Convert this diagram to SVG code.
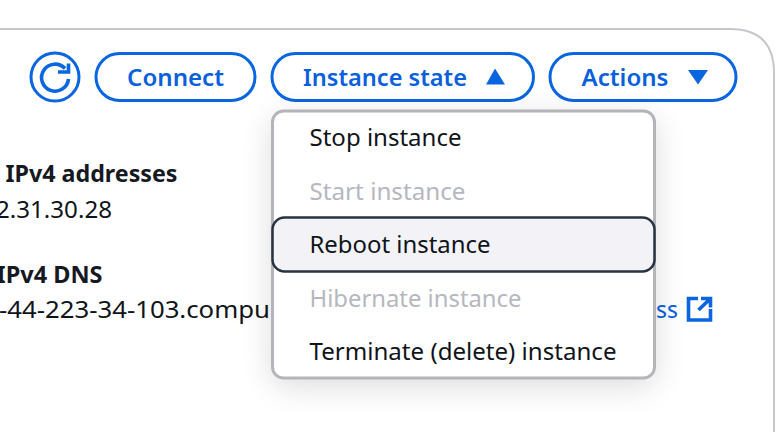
<svg xmlns="http://www.w3.org/2000/svg" width="780" height="432" viewBox="0 0 780 432">
<style>
text{font-family:"Noto Sans","Open Sans","Liberation Sans",sans-serif;font-size:24px;fill:#0f141a}
.b{font-weight:700;fill:#16191f}
.l{font-weight:600;fill:#0a5fdc;font-size:24px}
.d{fill:#b6b7bf}
.btn{fill:#fff;stroke:#0a66e0;stroke-width:3}
.ic{fill:none;stroke:#0a66e0;stroke-width:3.6}
</style>
<defs>
<filter id="sh" x="-20%" y="-20%" width="140%" height="140%"><feGaussianBlur stdDeviation="16"/></filter>
</defs>
<rect width="780" height="432" fill="#fff"/>
<path d="M-5 29H730Q774 29 774 73V432" fill="none" stroke="#c6c6cd" stroke-width="2"/>
<g id="details">
<text class="b" x="5.500" y="182" textLength="172" lengthAdjust="spacingAndGlyphs">IPv4 addresses</text>
<text x="-4" y="218" textLength="116" lengthAdjust="spacingAndGlyphs">2.31.30.28</text>
<text class="b" x="-3.500" y="283" textLength="106" lengthAdjust="spacingAndGlyphs">IPv4 DNS</text>
<text x="-1" y="318" textLength="271" lengthAdjust="spacingAndGlyphs">-44-223-34-103.compu</text>
<text x="656" y="318" style="fill:#0a5fdc" textLength="22" lengthAdjust="spacingAndGlyphs">ss</text>
<path class="ic" d="M698 298.500H688.500V320H710.500V309M701 298.500H710.500V307.500M710.500 298.500L698.500 310"/>
</g>
<g id="refresh">
<circle class="btn" cx="55" cy="77" r="24"/>
<path class="ic" d="M68.500 79A13.500 13.500 0 1 1 65 68.500M58 72H68.500V63.500"/>
</g>
<g id="connect">
<rect class="btn" x="96" y="53.500" width="159" height="47" rx="23.500"/>
<text class="l" x="127" y="86" textLength="97" lengthAdjust="spacingAndGlyphs">Connect</text>
</g>
<g id="instance-state">
<rect class="btn" x="272" y="53.500" width="261.500" height="47" rx="23.500"/>
<text class="l" x="303" y="86" textLength="164" lengthAdjust="spacingAndGlyphs">Instance state</text>
<path d="M486 84.500L495 68.500L505 84.500Z" fill="#0a66e0"/>
</g>
<g id="actions">
<rect class="btn" x="550" y="53.500" width="186" height="47" rx="23.500"/>
<text class="l" x="581.500" y="86" textLength="87" lengthAdjust="spacingAndGlyphs">Actions</text>
<path d="M688 70H708L698 84.500Z" fill="#0a66e0"/>
</g>
<g id="menu">
<rect x="272" y="118" width="383" height="268" rx="12" fill="#000" opacity=".14" filter="url(#sh)"/>
<rect x="272.500" y="111" width="382" height="267" rx="11" fill="#fff" stroke="#b4b4bb" stroke-width="3"/>
<text x="309.500" y="146" textLength="152" lengthAdjust="spacingAndGlyphs">Stop instance</text>
<text class="d" x="309.500" y="200" textLength="156" lengthAdjust="spacingAndGlyphs">Start instance</text>
<rect x="272.500" y="217.500" width="382" height="54" rx="12" fill="#f2f2f7" stroke="#2a3240" stroke-width="2.500"/>
<text x="309.500" y="253" textLength="181" lengthAdjust="spacingAndGlyphs">Reboot instance</text>
<text class="d" x="309.500" y="307" textLength="212" lengthAdjust="spacingAndGlyphs">Hibernate instance</text>
<text x="309.500" y="360" textLength="307" lengthAdjust="spacingAndGlyphs">Terminate (delete) instance</text>
</g>
</svg>
